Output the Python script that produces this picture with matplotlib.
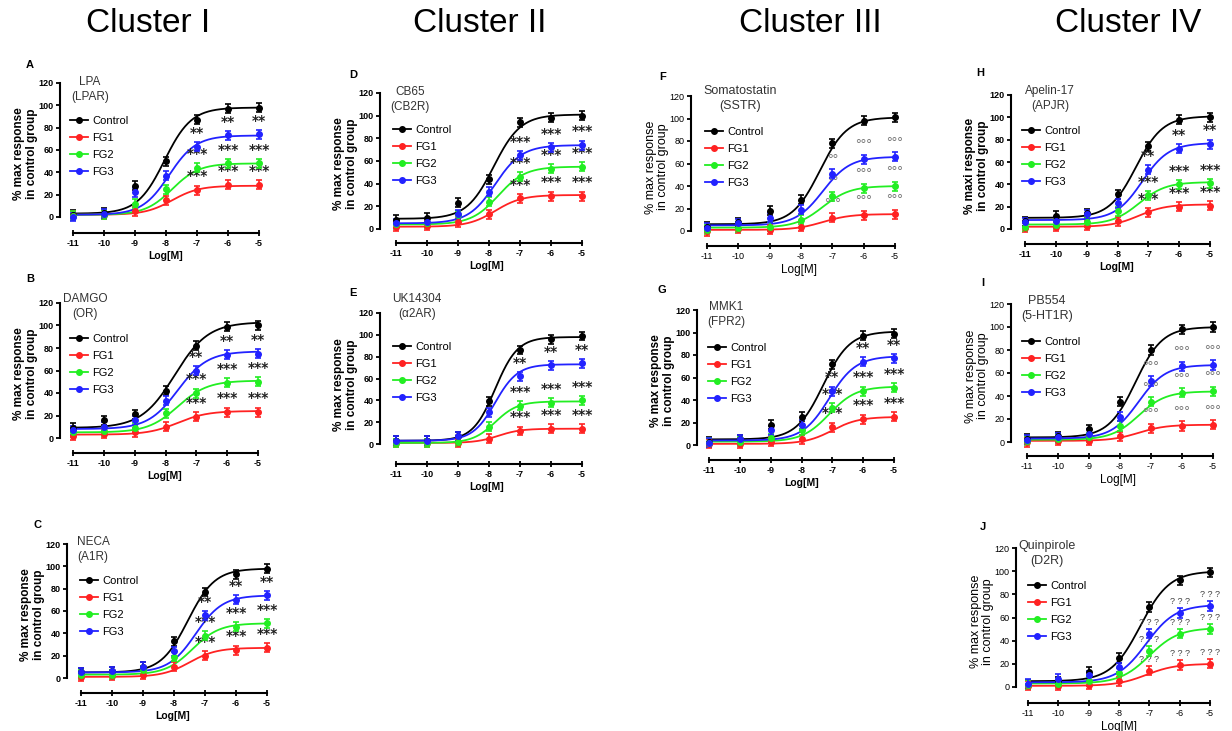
"""Concentration-response curves for ten GPCR agonists, grouped in four clusters."""

import numpy as np
import matplotlib.pyplot as plt
from matplotlib.lines import Line2D

W, H = 1232, 731

# ---- data -----------------------------------------------------------------
doses = [-11, -10, -9, -8, -7, -6, -5]
series_names = ['Control', 'FG1', 'FG2', 'FG3']
series_colors = ['black', '#ff2222', '#22ee22', '#2222ff']
star_doses = [-7, -6, -5]

# rows: Control, FG1, FG2, FG3 ; fit: (bottom, top, logEC50, hill)
lpa_values = [[2, 4, 28, 50, 87, 97, 98],
              [1, 2, 5, 15, 24, 29, 29],
              [1, 2, 12, 25, 44, 48, 48],
              [0, 3, 22, 37, 63, 73, 74]]
lpa_fit = [(3, 98, -8.05, 1), (2, 28, -7.8, 1), (2, 48, -7.8, 1), (2, 73, -7.9, 1)]
lpa_stars = [['***'] * 3, ['***'] * 3, ['**'] * 3]

damgo_values = [[9, 16, 21, 42, 82, 99, 100],
                [2, 4, 5, 10, 19, 23, 23],
                [5, 6, 9, 22, 40, 49, 50],
                [7, 10, 16, 33, 60, 74, 75]]
damgo_fit = [(9, 103, -7.7, 0.8), (3, 24, -7.6, 0.9), (5, 51, -7.6, 0.9), (8, 77, -7.6, 0.9)]
damgo_stars = [['***'] * 3, ['***'] * 3, ['**'] * 3]

neca_values = [[5, 6, 10, 33, 77, 93, 98],
               [1, 2, 3, 10, 20, 25, 27],
               [3, 3, 7, 19, 38, 46, 49],
               [5, 6, 10, 24, 56, 70, 74]]
neca_fit = [(5, 98, -7.55, 1), (1, 27, -7.5, 1), (3, 49, -7.4, 1), (5, 74, -7.3, 1)]
neca_stars = [['***'] * 3, ['***'] * 3, ['**'] * 3]

cb65_values = [[8, 10, 23, 44, 94, 98, 100],
               [2, 3, 6, 13, 27, 29, 29],
               [4, 5, 12, 24, 46, 53, 55],
               [5, 6, 13, 33, 65, 72, 74]]
cb65_fit = [(9, 101, -7.85, 1), (2, 30, -7.8, 1), (4, 55, -7.7, 1), (5, 74, -7.8, 1)]
cb65_stars = [['***'] * 3, ['***'] * 3, ['***'] * 3]

uk_values = [[3, 3, 7, 39, 86, 96, 99],
             [1, 1, 1, 5, 12, 14, 14],
             [1, 1, 2, 16, 35, 38, 40],
             [3, 3, 7, 29, 62, 72, 74]]
uk_fit = [(3, 98, -7.8, 1.2), (1, 14, -7.7, 1.2), (1, 39, -7.8, 1.2), (3, 73, -7.8, 1.2)]
uk_stars = [['***'] * 3, ['***'] * 3, ['**'] * 3]

somat_values = [[4, 8, 18, 28, 78, 98, 101],
                [0, 2, 1, 4, 12, 14, 15],
                [1, 3, 4, 10, 31, 38, 40],
                [3, 7, 12, 19, 51, 64, 66]]
somat_fit = [(6, 101, -7.4, 1), (1, 15, -7.3, 1), (3, 40, -7.3, 1), (5, 66, -7.3, 1)]
somat_stars = [['°°°'] * 3, ['°°', '°°°', '°°°'], ['°°', '°°°', '°°°']]

mmk_values = [[3, 5, 18, 25, 72, 97, 99],
              [1, 1, 3, 5, 16, 23, 25],
              [2, 3, 6, 13, 33, 48, 51],
              [2, 5, 13, 18, 48, 74, 77]]
mmk_fit = [(5, 101, -7.3, 1), (1, 25, -7.0, 1), (3, 52, -7.1, 1), (4, 79, -7.1, 1)]
mmk_stars = [['***'] * 3, ['***'] * 3, ['**'] * 3]

apelin_values = [[7, 12, 14, 31, 74, 98, 100],
                 [1, 2, 3, 7, 15, 20, 21],
                 [2, 4, 6, 16, 30, 40, 41],
                 [6, 7, 13, 23, 53, 72, 76]]
apelin_fit = [(10, 101, -7.4, 1), (2, 22, -7.3, 1), (4, 42, -7.3, 1), (8, 77, -7.2, 1)]
apelin_stars = [['***'] * 3, ['***'] * 3, ['**'] * 3]

pb_values = [[3, 5, 11, 35, 80, 98, 100],
             [0, 1, 1, 5, 12, 14, 15],
             [1, 3, 4, 14, 35, 43, 44],
             [2, 4, 7, 22, 53, 66, 67]]
pb_fit = [(4, 100, -7.5, 1), (1, 15, -7.4, 1), (2, 44, -7.4, 1), (3, 67, -7.4, 1)]
pb_stars = [['°°°'] * 3, ['°°°'] * 3, ['°°°'] * 3]

quin_values = [[2, 5, 13, 25, 69, 92, 99],
               [1, 1, 2, 5, 14, 19, 20],
               [2, 3, 5, 12, 31, 46, 50],
               [3, 7, 10, 17, 46, 64, 70]]
quin_fit = [(5, 100, -7.3, 0.9), (1, 20, -7.1, 0.9), (3, 51, -7.0, 0.9), (4, 71, -7.1, 0.9)]
quin_stars = [['? ? ?'] * 3, ['? ? ?'] * 3, ['? ? ?'] * 3]

error_size = 4

# ---- layout (pixels) -------------------------------------------------------
# letter, drug, receptor, values, fit, stars, ylabel, narrow style,
# axes: (yspine_x, x_at_-11, x_at_-5, y_at_120, y_at_0, xaxis_y),
# letter pos, title pos, legend pos
panels = [
    ('A', 'LPA', '(LPAR)', lpa_values, lpa_fit, lpa_stars, '% max response', False,
     (60, 73, 259, 83, 217, 233), (30, 65), (90, 83), (70, 122)),
    ('B', 'DAMGO', '(OR)', damgo_values, damgo_fit, damgo_stars, '% max response', False,
     (60, 73, 258, 303, 438, 453), (30, 279), (85, 300), (70, 340)),
    ('C', 'NECA', '(A1R)', neca_values, neca_fit, neca_stars, '% max response', False,
     (67, 81, 267, 544, 678, 693), (37, 525), (93, 543), (80, 582)),
    ('D', 'CB65', '(CB2R)', cb65_values, cb65_fit, cb65_stars, '% max response', False,
     (380, 396, 582, 93, 229, 243), (353, 75), (410, 93), (393, 131)),
    ('E', 'UK14304', '(\u03b12AR)', uk_values, uk_fit, uk_stars, '% max response', False,
     (380, 396, 582, 313, 444, 464), (353, 293), (417, 300), (393, 348)),
    ('F', 'Somatostatin', '(SSTR)', somat_values, somat_fit, somat_stars, '% max response', True,
     (691, 707, 895, 96, 231, 246), (663, 77), (740, 92), (705, 133)),
    ('G', 'MMK1', '(FPR2)', mmk_values, mmk_fit, mmk_stars, '% max response', False,
     (697, 709, 894, 310, 445, 460), (662, 290), (726, 308), (708, 349)),
    ('H', 'Apelin-17', '(APJR)', apelin_values, apelin_fit, apelin_stars, '% maxi response', False,
     (1011, 1025, 1210, 95, 229, 244), (980, 73), (1050, 92), (1022, 132)),
    ('I', 'PB554', '(5-HT1R)', pb_values, pb_fit, pb_stars, '% max response', True,
     (1011, 1027, 1213, 304, 442, 456), (983, 283), (1047, 302), (1022, 343)),
    ('J', 'Quinpirole', '(D2R)', quin_values, quin_fit, quin_stars, '% max response', True,
     (1016, 1028, 1210, 548, 687, 703), (983, 527), (1047, 547), (1028, 587)),
]

clusters = ['Cluster I', 'Cluster II', 'Cluster III', 'Cluster IV']
cluster_x = [148, 480, 810, 1128]

plt.rcParams['font.family'] = ['Liberation Sans', 'DejaVu Sans']
FAMILY = ['Liberation Sans', 'DejaVu Sans']


def fx(px):
    return px / W


def fy(py):
    return 1 - py / H


def logistic(x, bottom, top, ec50, hill):
    return bottom + (top - bottom) / (1 + 10 ** (hill * (ec50 - x)))


def draw_panel(fig, p):
    (letter, drug, receptor, values, fit, stars, ylab, narrow,
     geo, letter_pos, title_pos, legend_pos) = p
    sx, x11, x5, y120, y0, xa = geo
    ppx = (x5 - x11) / 6
    ppy = (y0 - y120) / 120
    right = x5 + 12
    top = y120 - 8
    ax = fig.add_axes([fx(sx), fy(xa), (right - sx) / W, (xa - top) / H])
    ax.set_xlim(-11 - (x11 - sx) / ppx, -5 + 12 / ppx)
    ax.set_ylim(-(xa - y0) / ppy, 120 + 8 / ppy)

    weight = 'normal' if narrow else 'bold'
    txt_color = '#333333'

    xs = np.linspace(-11, -5, 200)
    for vals, prm, col in zip(values, fit, series_colors):
        ax.plot(xs, logistic(xs, *prm), color=col, lw=1.3, clip_on=False, zorder=3)
        ax.errorbar(doses, vals, yerr=error_size, fmt='o', color=col, ms=4,
                    elinewidth=1.2, capsize=2, capthick=1.2, clip_on=False, zorder=4)

    # significance marks above FG1..FG3 at the top three doses
    for k, marks in enumerate(stars):
        vals = values[k + 1]
        for d, m in zip(star_doses, marks):
            yv = vals[doses.index(d)]
            if narrow and '?' in m:
                ax.text(d, yv + error_size + 2, m, ha='center', va='bottom',
                        fontsize=6.5, color='#444444')
            elif narrow:
                ax.text(d, yv + error_size + 2, m, ha='center', va='bottom',
                        fontsize=10, color='#777777')
            else:
                ax.text(d, yv + error_size + 2, m, ha='center', va='bottom',
                        fontsize=10, fontweight='bold', color='#222222',
                        family='DejaVu Sans')

    for s in ['top', 'right']:
        ax.spines[s].set_visible(False)
    ax.spines['left'].set_bounds(0, 120)
    ax.spines['bottom'].set_bounds(-11, -5)
    for s in ['left', 'bottom']:
        ax.spines[s].set_linewidth(1.5)
    ax.set_yticks(range(0, 121, 20))
    ax.set_xticks(doses)
    ax.set_xticklabels([str(d) for d in doses])
    ax.tick_params(axis='y', length=3, width=1.3, labelsize=6.5, pad=1.5)
    ax.tick_params(axis='x', direction='inout', length=5, width=1.3, labelsize=6.5, pad=2)
    for lbl in ax.get_xticklabels() + ax.get_yticklabels():
        lbl.set_fontweight(weight)

    ax.set_xlabel('Log[M]', fontsize=7.5 if not narrow else 8.5, fontweight=weight,
                  labelpad=2)
    ax.set_ylabel(ylab + '\nin control group', fontsize=8.5 if not narrow else 9,
                  fontweight=weight, labelpad=0.5, linespacing=1.05)

    fig.text(fx(letter_pos[0]), fy(letter_pos[1]), letter, fontsize=8,
             fontweight='bold', ha='center', va='center')
    fig.text(fx(title_pos[0]), fy(title_pos[1] - 7), drug + '\n' + receptor,
             fontsize=8.5 if not narrow else 9, color=txt_color, ha='center',
             va='top', linespacing=1.3)

    handles = [Line2D([], [], color=c, marker='o', ms=4, lw=1.3) for c in series_colors]
    ax.legend(handles, series_names, loc='upper left', frameon=False,
              bbox_to_anchor=(fx(legend_pos[0]), fy(legend_pos[1] - 6)),
              bbox_transform=fig.transFigure, borderpad=0, borderaxespad=0,
              handlelength=1.6, handletextpad=0.4, labelspacing=0.62,
              prop={'size': 8, 'family': FAMILY})


def main():
    fig = plt.figure(figsize=(W / 100, H / 100), dpi=100)
    for name, cx in zip(clusters, cluster_x):
        fig.text(fx(cx), fy(23), name, fontsize=24, ha='center', va='center')
    for p in panels:
        draw_panel(fig, p)
    fig.savefig('out.png', dpi=100)


if __name__ == '__main__':
    main()
